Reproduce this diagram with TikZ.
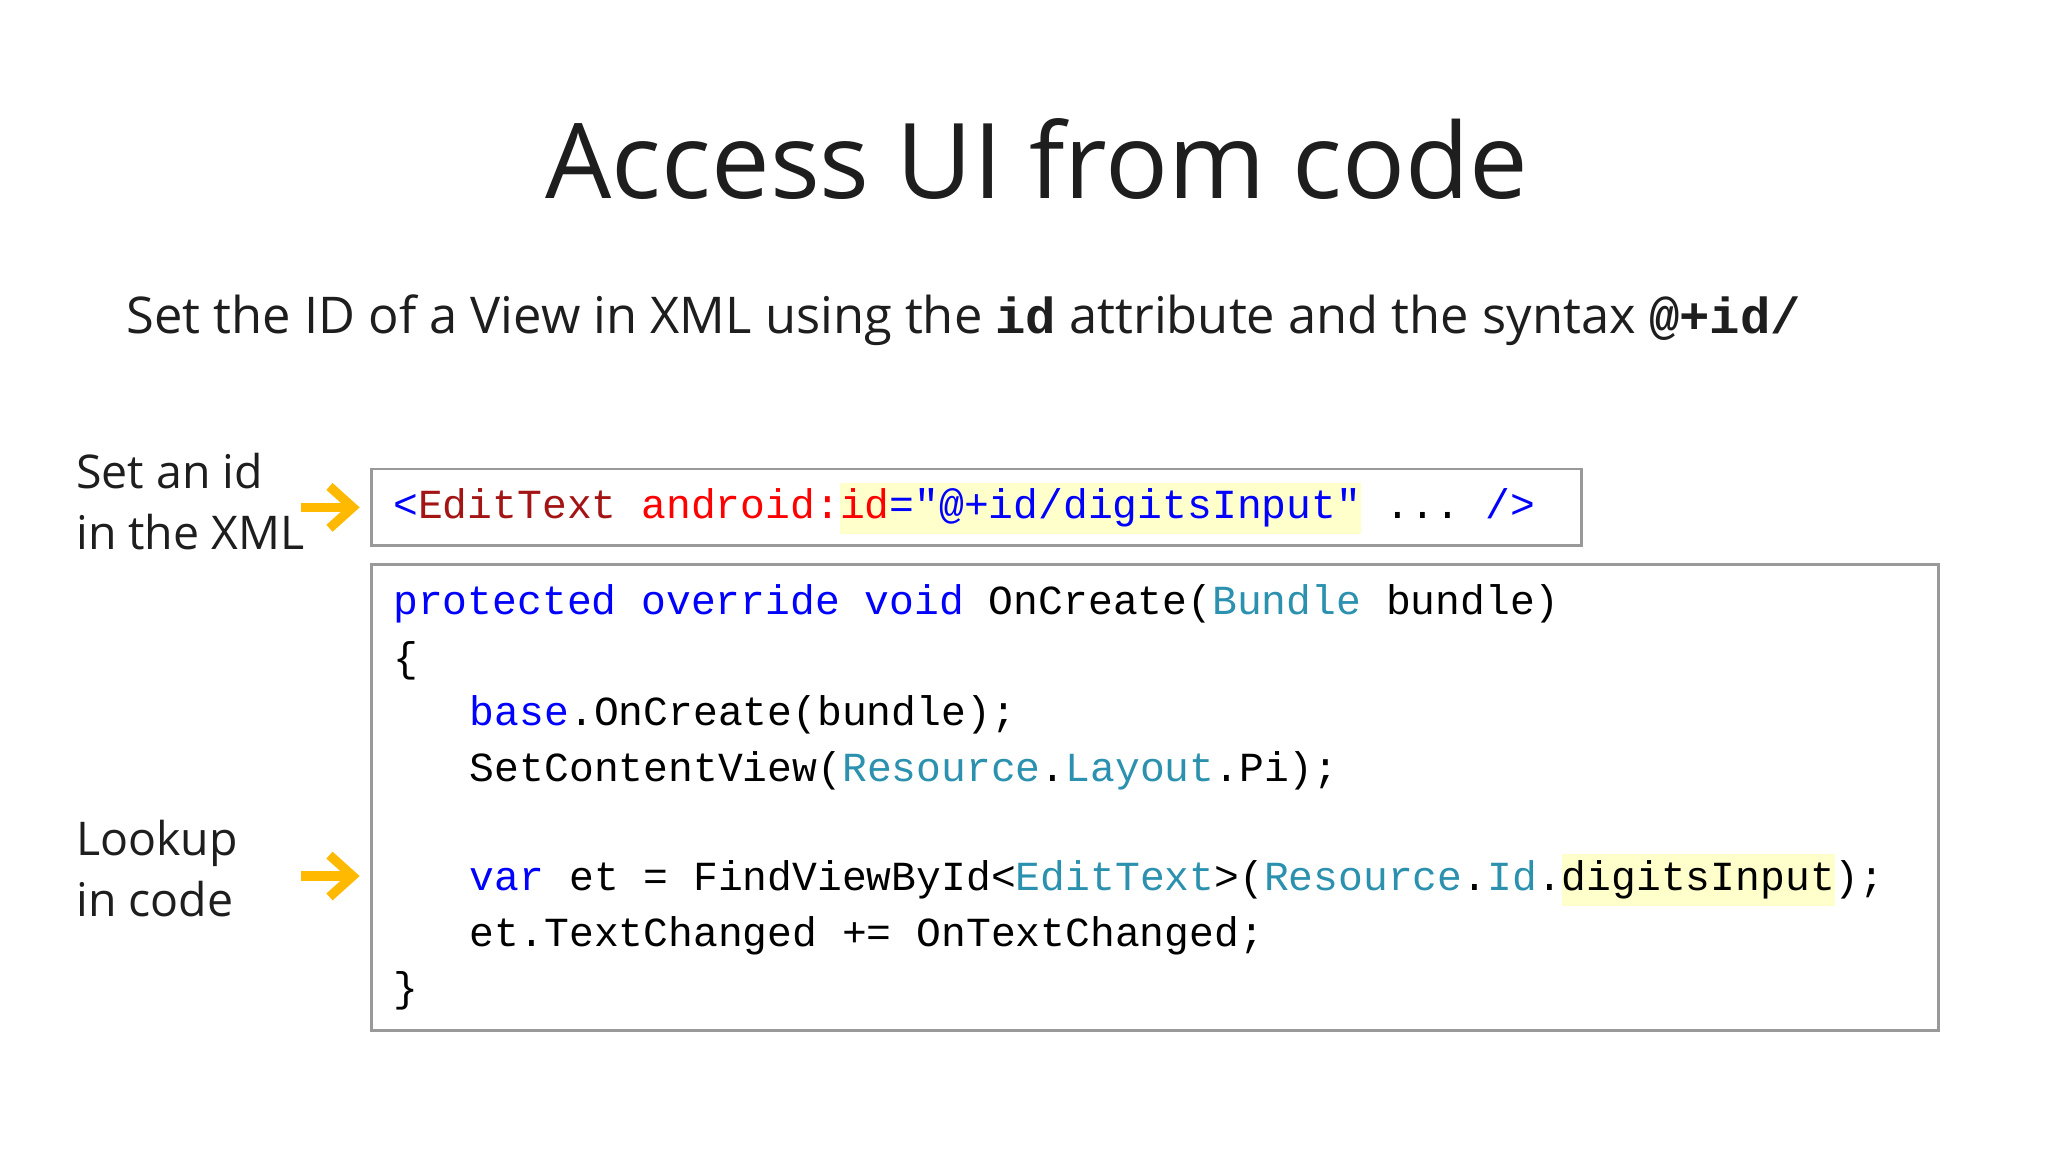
\documentclass[tikz,border=0pt]{standalone}
\usepackage{fontspec}
\setmainfont{Open Sans}
\setmonofont{Liberation Mono}
\usetikzlibrary{arrows.meta}
\definecolor{kw}{RGB}{0,0,255}
\definecolor{ty}{RGB}{43,145,175}
\definecolor{tag}{RGB}{163,21,21}
\definecolor{at}{RGB}{255,0,0}
\definecolor{hly}{RGB}{255,255,204}
\definecolor{arr}{RGB}{255,185,0}
\definecolor{txt}{RGB}{30,30,30}
\newcommand{\hlt}[1]{{\setlength\fboxsep{0pt}\colorbox{hly}{\strut #1}}}
\tikzset{codeln/.style={anchor=west,inner sep=0pt,font=\fontsize{8.9}{11}\ttfamily,text=black},
 lbl/.style={anchor=north west,inner sep=0pt,align=left,font=\fontsize{10}{13.2}\selectfont,text=txt},
 box/.style={draw=gray!80,line width=0.6pt},
 yarr/.style={draw=arr,line width=2pt,shorten >=2.5pt,-{Straight Barb[length=5pt,width=9pt]}}}
\begin{document}
\begin{tikzpicture}[x=0.01cm,y=-0.01cm]
\useasboundingbox (0,0) rectangle (1550,872);
\node[anchor=center,font=\fontsize{22.5}{28}\selectfont,text=txt] (title) at (785,120) {Access UI from code};
\node[anchor=west,inner sep=0pt,font=\fontsize{10.9}{14}\selectfont,text=txt] (sub) at (95,242) {Set the ID of a View in XML using the {\ttfamily\bfseries id} attribute and the syntax {\ttfamily\bfseries @+id/}};
\node[lbl] (l1) at (57,342) {Set an id\\in the XML};
\node[lbl] (l2) at (57,620) {Lookup\\in code};
\draw[box] (281,355) rectangle (1197,413);
\coordinate (xmlw) at (281,384);
\draw[box] (281,427) rectangle (1467,780);
\coordinate (codew) at (281,663);
\coordinate (a1) at (228,384);
\coordinate (a2) at (228,663);
\draw[yarr] (a1) -- (xmlw);
\draw[yarr] (a2) -- (codew);
\node[codeln] (x1) at (297,385) {\textcolor{kw}{<}\textcolor{tag}{EditText} \textcolor{at}{android:}\hlt{\textcolor{at}{id}\textcolor{kw}{="@+id/digitsInput"}} ... \textcolor{kw}{/>}};
\node[codeln] (c1) at (297,457) {\textcolor{kw}{protected override void} OnCreate(\textcolor{ty}{Bundle} bundle)};
\node[codeln] (c2) at (297,500) {\{};
\node[codeln] (c3) at (355,541) {\textcolor{kw}{base}.OnCreate(bundle);};
\node[codeln] (c4) at (355,583) {SetContentView(\textcolor{ty}{Resource}.\textcolor{ty}{Layout}.Pi);};
\node[codeln] (c5) at (355,666) {\textcolor{kw}{var} et = FindViewById<\textcolor{ty}{EditText}>(\textcolor{ty}{Resource}.\textcolor{ty}{Id}.\hlt{digitsInput});};
\node[codeln] (c6) at (355,708) {et.TextChanged += OnTextChanged;};
\node[codeln] (c7) at (297,750) {\}};
\end{tikzpicture}
\end{document}
